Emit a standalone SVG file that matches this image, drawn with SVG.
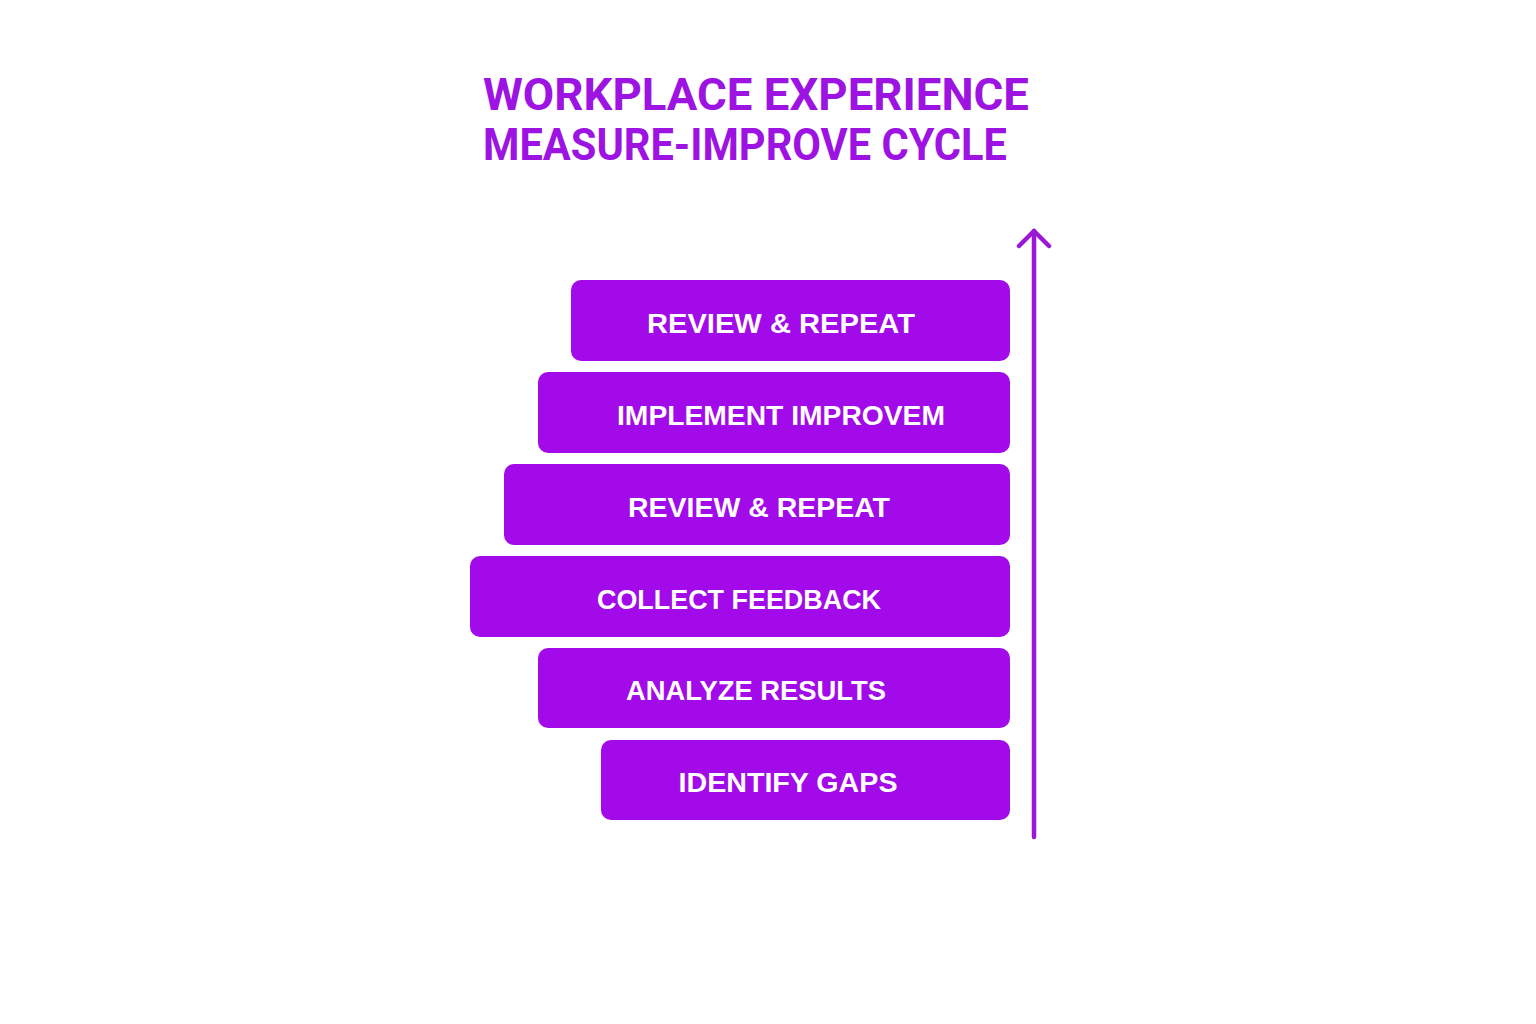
<svg xmlns="http://www.w3.org/2000/svg" width="1536" height="1024" viewBox="0 0 1536 1024">
<style>
.title{font-family:Roboto,"Liberation Sans",Arial,sans-serif;font-weight:bold;font-size:44px;fill:#9c13e2}
.box{fill:#a20aea}
.lbl{font-family:"Liberation Sans",Arial,sans-serif;font-weight:bold;font-size:27px;fill:#ffffff;text-anchor:middle}
.conn{stroke:#9a18d6;stroke-width:4.5;fill:none;stroke-linecap:round;stroke-linejoin:round}
</style>
<rect width="1536" height="1024" fill="#ffffff"/>
<g id="title">
<text class="title" x="483" y="110" textLength="546" lengthAdjust="spacingAndGlyphs">WORKPLACE EXPERIENCE</text>
<text class="title" x="483" y="160" textLength="524" lengthAdjust="spacingAndGlyphs">MEASURE-IMPROVE CYCLE</text>
</g>
<g id="node-review-repeat-top">
<rect class="box" x="571" y="280" width="439" height="81" rx="10"/>
<text class="lbl" x="781" y="333" textLength="268" lengthAdjust="spacingAndGlyphs">REVIEW &amp;  REPEAT</text>
</g>
<g id="node-implement">
<rect class="box" x="538" y="372" width="472" height="81" rx="10"/>
<text class="lbl" x="781" y="425" textLength="328" lengthAdjust="spacingAndGlyphs">IMPLEMENT IMPROVEM</text>
</g>
<g id="node-review-repeat-mid">
<rect class="box" x="504" y="464" width="506" height="81" rx="10"/>
<text class="lbl" x="759" y="517" textLength="262" lengthAdjust="spacingAndGlyphs">REVIEW &amp; REPEAT</text>
</g>
<g id="node-collect">
<rect class="box" x="470" y="556" width="540" height="81" rx="10"/>
<text class="lbl" x="739" y="609" textLength="284" lengthAdjust="spacingAndGlyphs">COLLECT FEEDBACK</text>
</g>
<g id="node-analyze">
<rect class="box" x="538" y="648" width="472" height="80" rx="10"/>
<text class="lbl" x="756" y="700" textLength="260" lengthAdjust="spacingAndGlyphs">ANALYZE RESULTS</text>
</g>
<g id="node-identify">
<rect class="box" x="601" y="740" width="409" height="80" rx="10"/>
<text class="lbl" x="788" y="792" textLength="219" lengthAdjust="spacingAndGlyphs">IDENTIFY GAPS</text>
</g>
<g id="connectors">
<line class="conn" x1="1034" y1="837" x2="1034" y2="231"/>
<polyline class="conn" points="1019,246 1034,231 1049,246"/>
</g>
</svg>
